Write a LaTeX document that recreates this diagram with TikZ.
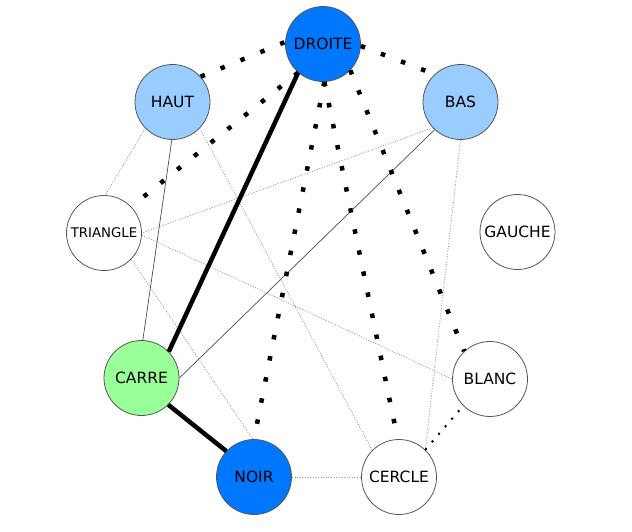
\documentclass[tikz,border=0pt]{standalone}
\usepackage{fontspec}
\setmainfont{DejaVu Sans}
\definecolor{nodedark}{RGB}{0,119,255}
\definecolor{nodelight}{RGB}{153,204,255}
\definecolor{nodegreen}{RGB}{153,255,153}
\definecolor{nodeline}{RGB}{85,85,85}
\definecolor{dotgray}{RGB}{150,150,150}
\begin{document}
\begin{tikzpicture}[x=1pt,y=-1pt,
        vertex/.style={circle,draw=nodeline,line width=0.8pt,minimum size=75pt,inner sep=0pt,
                       font=\fontsize{15.5}{18}\selectfont},
        heavyline/.style={line width=4.5pt},
        heavydots/.style={line width=4.5pt,dash pattern=on 4.5pt off 17pt},
        fineline/.style={line width=0.7pt,draw=black!70},
        finedots/.style={line width=0.8pt,draw=dotgray,dash pattern=on 1pt off 1.6pt},
        smalldots/.style={line width=2pt,dash pattern=on 2pt off 8pt}]
        \useasboundingbox (0,0) rectangle (632,532);
        {\footnotesize

        % Marking the nodes
        \node (droite) [vertex,fill=nodedark] at (323.000000,44.000000) {DROITE};%
        \node (haut) [vertex,fill=nodelight] at (172.500000,102.000000) {HAUT};%
        \node (bas) [vertex,fill=nodelight] at (460.500000,102.000000) {BAS};%
        \node (triangle) [vertex,fill=white,font=\fontsize{13.3}{16}\selectfont] at (104.000000,233.000000) {TRIANGLE};%
        \node (gauche) [vertex,fill=white] at (517.500000,232.000000) {GAUCHE};%
        \node (carre) [vertex,fill=nodegreen] at (141.500000,378.000000) {CARRE};%
        \node (blanc) [vertex,fill=white] at (490.000000,379.000000) {BLANC};%
        \node (noir) [vertex,fill=nodedark] at (254.000000,477.000000) {NOIR};%
        \node (cercle) [vertex,fill=white] at (399.000000,477.000000) {CERCLE};%

        % Drawing thin dotted edges
        \draw [finedots] (haut.-136) -- (triangle.88);%
        \draw [finedots] (haut.-44) -- (cercle.135);%
        \draw [finedots] (bas.-137) -- (triangle.0);%
        \draw [finedots] (bas.-90) -- (cercle.46);%
        \draw [finedots] (triangle.-3) -- (blanc.180);%
        \draw [finedots] (triangle.-44) -- (noir.92);%
        \draw [finedots] (noir.0) -- (cercle.180);%

        % Drawing thin solid edges
        \draw [fineline] (haut.-91) -- (carre.88);%
        \draw [fineline] (bas.-133) -- (carre.0);%

        % Drawing small dotted edge
        \draw [smalldots] (cercle.46) -- (blanc.-135);%

        % Drawing heavy solid edges
        \draw [heavyline] (droite.-131) -- (carre.44);%
        \draw [heavyline] (carre.-45) -- (noir.137);%

        % Drawing heavy dotted edges
        \draw [heavydots] (haut.42) -- (droite.177);%
        \draw [heavydots] (droite.-3) -- (bas.133);%
        \draw [heavydots] (droite.-131) -- (triangle.44);%
        \draw [heavydots] (droite.-88) -- (noir.90);%
        \draw [heavydots] (droite.-88) -- (cercle.92);%
        \draw [heavydots] (droite.-44) -- (blanc.133);%
        }
\end{tikzpicture}
\end{document}
